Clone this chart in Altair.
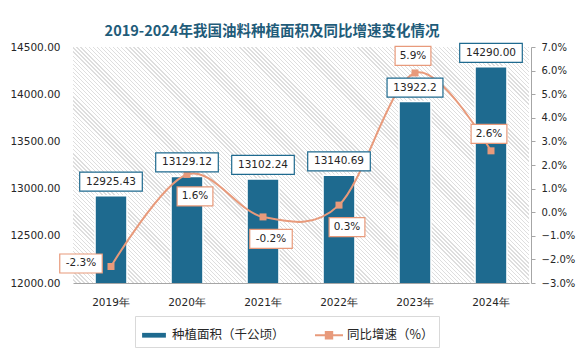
import altair as alt
import pandas as pd

# ---------------- data ----------------
years = ["2019年", "2020年", "2021年", "2022年", "2023年", "2024年"]
area = [12925.43, 13129.12, 13102.24, 13140.69, 13922.2, 14290.00]
area_text = ["12925.43", "13129.12", "13102.24", "13140.69", "13922.2", "14290.00"]
growth = [-2.3, 1.6, -0.2, 0.3, 5.9, 2.6]
growth_text = ["-2.3%", "1.6%", "-0.2%", "0.3%", "5.9%", "2.6%"]
area_ticks = [12000, 12500, 13000, 13500, 14000, 14500]
growth_ticks = [-3, -2, -1, 0, 1, 2, 3, 4, 5, 6, 7]
series_names = ["种植面积（千公顷）", "同比增速（%）"]
title_text = "2019-2024年我国油料种植面积及同比增速变化情况"

df = pd.DataFrame({
    "year": years, "area": area, "area_text": area_text,
    "growth": growth, "growth_text": growth_text,
})

# ---------------- style ----------------
W, H = 456, 236
BLUE = "#1e6a8f"
SALMON = "#e89a7b"
AXIS_GRAY = "#a6a6a6"
TXT = "#262626"
NUM_FONT = "DejaVu Sans"
CJK_FONT = "Noto Sans CJK SC"

# diagonal hatch background via a striped linear gradient
n_str = 170
stops = []
for i in range(n_str):
    a = round(i / n_str, 5)
    b = round((i + 0.68) / n_str, 5)
    c = round((i + 1) / n_str, 5)
    stops += [{"offset": a, "color": "#ffffff"}, {"offset": b, "color": "#ffffff"},
              {"offset": b, "color": "#dedede"}, {"offset": c, "color": "#dedede"}]
hatch = {"gradient": "linear", "x1": 0, "y1": 1, "x2": 1.197, "y2": 0.3805, "stops": stops}

x_enc = alt.X("year:N", sort=years,
              scale=alt.Scale(paddingInner=0.58, paddingOuter=0.29),
              axis=alt.Axis(title=None, labelAngle=0, ticks=False, domainColor=AXIS_GRAY,
                            labelFont=NUM_FONT, labelFontSize=10.5, labelColor=TXT,
                            labelPadding=14, grid=False))

area_scale = alt.Scale(domain=[12000, 14500], zero=False, nice=False)
growth_scale = alt.Scale(domain=[-3, 7], zero=False, nice=False)

y_area_axis = alt.Y("area:Q", scale=area_scale,
                    axis=alt.Axis(orient="left", values=area_ticks, format=".2f", title=None,
                                  domain=False, ticks=False, tickSize=0, labelPadding=13,
                                  labelFont=NUM_FONT, labelFontSize=10.5, labelColor=TXT,
                                  grid=False))
y_area = alt.Y("area:Q", scale=area_scale, axis=None)
y_growth_axis = alt.Y("growth:Q", scale=growth_scale,
                      axis=alt.Axis(orient="right", values=growth_ticks, title=None,
                                    labelExpr="format(datum.value, '.1f') + '%'",
                                    domainColor=AXIS_GRAY, tickColor=AXIS_GRAY, tickSize=4,
                                    labelPadding=6, offset=2,
                                    labelFont=NUM_FONT, labelFontSize=10, labelColor=TXT,
                                    grid=False))
y_growth = alt.Y("growth:Q", scale=growth_scale, axis=None)

color_scale = alt.Scale(domain=series_names, range=[BLUE, SALMON])
legend = alt.Legend(
    orient="none", legendX=62, legendY=269, direction="horizontal", title=None,
    padding=5, strokeColor="#d9d9d9", fillColor="white",
    labelFont=CJK_FONT, labelFontSize=12.5, labelColor=TXT, labelOffset=4,
    columnPadding=30, symbolSize=784, symbolStrokeWidth=0,
    symbolType={"expr": "datum.value == '种植面积（千公顷）' ? 'M-0.85,-0.17H0.85V0.17H-0.85Z' : 'M-1,-0.07H1V0.07H-1Z M-0.3,-0.3H0.3V0.3H-0.3Z'"},
)

base = alt.Chart(df)

bg = base.mark_rect(fill=hatch).encode(
    x=alt.value(0), x2=alt.value(W), y=alt.value(0), y2=alt.value(H))

bars = base.transform_calculate(series="'种植面积（千公顷）'").mark_bar(
    stroke="white", strokeWidth=1.5, clip=True).encode(
    x=x_enc, y=y_area_axis,
    color=alt.Color("series:N", scale=color_scale, legend=legend))

line = base.mark_line(interpolate="cardinal", strokeWidth=2, color=SALMON).encode(
    x=x_enc, y=y_growth_axis)

pts = base.transform_calculate(series="'同比增速（%）'").mark_point(
    filled=True, shape="square", size=49, opacity=1).encode(
    x=x_enc, y=y_growth,
    color=alt.Color("series:N", scale=color_scale, legend=legend))


def label_layers(text_field, y, border, dx, dy, filt=None):
    src = base
    if filt is not None:
        src = src.transform_filter(filt)
    src = src.transform_calculate(
        bw=f"length(datum.{text_field}) * 6.7 + 9"
    ).transform_calculate(
        bshape="'M-1,' + (-19 / datum.bw) + 'H1V' + (19 / datum.bw) + 'H-1Z'",
        bsize="datum.bw * datum.bw",
    )
    box = src.mark_point(fill="white", stroke=border, strokeWidth=1.2, opacity=1,
                         fillOpacity=1, xOffset=dx, yOffset=dy).encode(
        x=x_enc, y=y,
        shape=alt.Shape("bshape:N", scale=None),
        size=alt.Size("bsize:Q", scale=None))
    txt = src.mark_text(font=NUM_FONT, fontSize=10.5, color=TXT, align="center",
                        baseline="middle", xOffset=dx, yOffset=dy).encode(
        x=x_enc, y=y, text=f"{text_field}:N")
    return [box, txt]


area_labels = label_layers("area_text", y_area, BLUE, 0, -14)
g_left = label_layers("growth_text", y_growth, SALMON, -30, -3,
                      "datum.year == '2019年'")
g_below = label_layers("growth_text", y_growth, SALMON, 8, 22,
                       "datum.year == '2020年' || datum.year == '2021年' || datum.year == '2022年'")
g_above = label_layers("growth_text", y_growth, SALMON, -2, -17,
                       "datum.year == '2023年' || datum.year == '2024年'")

chart = alt.layer(
    bg, bars, line, pts, *area_labels, *g_left, *g_below, *g_above
).resolve_scale(y="independent").properties(
    width=W, height=H,
    autosize=alt.AutoSizeParams(type="none"),
    padding={"left": 65, "top": 39, "right": 47, "bottom": 69},
    title=alt.Title(title_text, font=CJK_FONT, fontSize=14.5, fontWeight="bold",
                    color="#1f5c7a", anchor="middle", dx=-29, dy=4, offset=5),
    background="white",
).configure_view(stroke=None)

chart.save("out.html", embed_options={"renderer": "svg", "actions": False})
